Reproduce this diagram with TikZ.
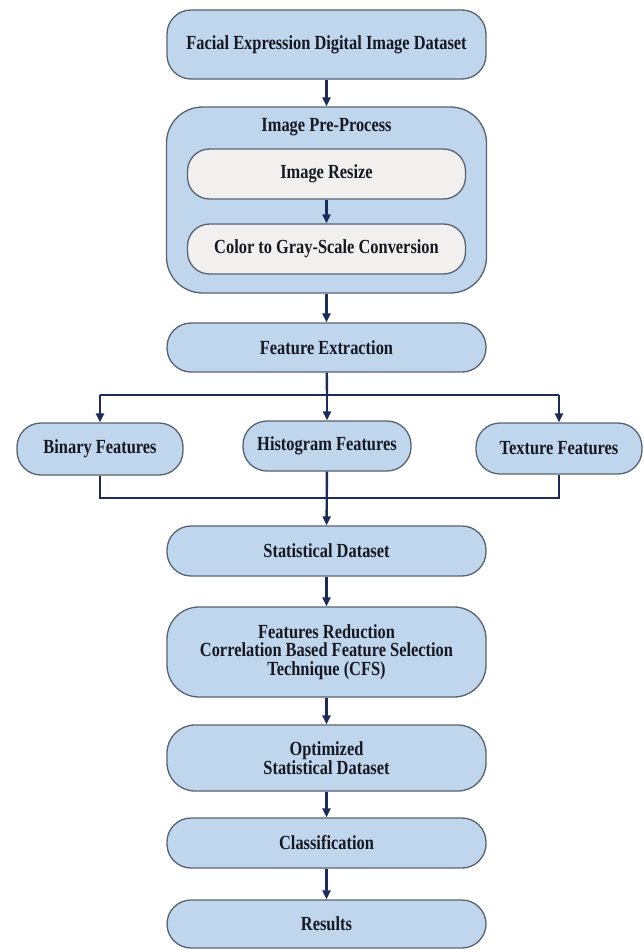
\documentclass[tikz,border=0pt]{standalone}
\usepackage{fontspec}
\setmainfont{Liberation Serif}[FakeStretch=0.82]
\usetikzlibrary{arrows.meta}
\definecolor{boxblue}{RGB}{191,214,237}
\definecolor{boxgrey}{RGB}{242,240,238}
\definecolor{boxline}{RGB}{88,98,114}
\definecolor{arrowblue}{RGB}{28,42,92}
\definecolor{textdark}{RGB}{22,24,34}
\begin{document}
\begin{tikzpicture}
    [x=1pt, y=-1pt,
     box/.style={draw=boxline, fill=boxblue, line width=1.3pt, rounded corners=24pt,
                 minimum width=319pt, minimum height=50pt, inner sep=0pt, align=center,
                 text=textdark, font=\bfseries\fontsize{20}{18.5}\selectfont},
     inner/.style={box, fill=boxgrey, minimum width=278pt, rounded corners=22pt},
     small/.style={box, minimum width=166pt},
     link/.style={draw=arrowblue, line width=2.4pt},
     flow/.style={link, -{Triangle[length=9pt, width=8pt]}}]
    \useasboundingbox (0,0) rectangle (644,950);
    \node[box, minimum height=69pt] (data) at (326.5,44.5) {Facial Expression Digital Image Dataset};
    \node[box, minimum width=320pt, minimum height=186pt, rounded corners=36pt] (pre) at (326.5,200) {};
    \node[text=textdark, font=\bfseries\fontsize{20}{18.5}\selectfont] (pretitle) at (326.5,127) {Image Pre-Process};
    \node[inner] (resize) at (326.5,174) {Image Resize};
    \node[inner] (gray) at (326.5,249) {Color to Gray-Scale Conversion};
    \node[box, minimum height=49pt] (extract) at (326.5,347.5) {Feature Extraction};
    \node[small, minimum height=52pt] (binary) at (100,449) {Binary Features};
    \node[small, minimum width=168pt] (hist) at (327,446) {Histogram Features};
    \node[small, minimum height=51pt] (texture) at (559,448.5) {Texture Features};
    \node[box] (stat) at (326.5,551) {Statistical Dataset};
    \node[box, minimum height=90pt, rounded corners=32pt] (reduce) at (326.5,652) {Features Reduction\\Correlation Based Feature Selection\\Technique (CFS)};
    \node[box, minimum height=66pt, rounded corners=28pt] (optim) at (326.5,758) {Optimized\\Statistical Dataset};
    \node[box] (classify) at (326.5,843) {Classification};
    \node[box, minimum height=48pt] (results) at (326.5,924) {Results};
    \coordinate (split) at (327,395);
    \coordinate (merge) at (327,498);
    \draw[flow] (data) -- (pre);
    \draw[flow] (resize) -- (gray);
    \draw[flow] (pre) -- (extract);
    \draw[link] (extract) -- (split);
    \draw[link] (binary.north |- split) -- (texture.north |- split);
    \draw[flow] (binary.north |- split) -- (binary);
    \draw[flow] (split) -- (hist);
    \draw[flow] (texture.north |- split) -- (texture);
    \draw[link] (binary) -- (binary.south |- merge) -- (texture.south |- merge) -- (texture);
    \draw[flow] (hist) -- (stat);
    \draw[flow] (stat) -- (reduce);
    \draw[flow] (reduce) -- (optim);
    \draw[flow] (optim) -- (classify);
    \draw[flow] (classify) -- (results);
\end{tikzpicture}
\end{document}
